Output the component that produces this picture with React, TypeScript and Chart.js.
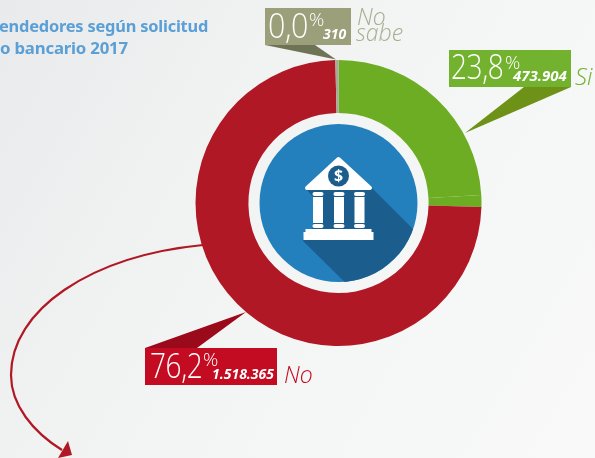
import React, { useEffect, useRef } from "react";
import { Chart, registerables } from "chart.js";

Chart.register(...registerables);

// Shares of the ring, as drawn in the picture (percent of the circle)
const categories = ["Sí", "Sí (banda)", "No", "No sabe"];
const ringShares = [24.1, 1.35, 74.2, 0.35];
const ringColors = ["#6dad23", "#6dad23", "#b11825", "#a8a99a"];

const titleLines = ["endedores según solicitud", "o bancario 2017"];
const percentLabels = ["0,0", "23,8", "76,2"];
const countLabels = ["310", "473.904", "1.518.365"];
const answerLabels = ["No", "sabe", "Si", "No"];

const BLUE = "#2380bd";
const SHADE = "#1b5e8e";

function poly(ctx: CanvasRenderingContext2D, pts: number[][], color: string) {
  ctx.fillStyle = color;
  ctx.beginPath();
  pts.forEach(([x, y], i) => (i ? ctx.lineTo(x, y) : ctx.moveTo(x, y)));
  ctx.closePath();
  ctx.fill();
}

function rrect(ctx: CanvasRenderingContext2D, x: number, y: number, w: number, h: number, r: number) {
  ctx.beginPath();
  ctx.roundRect(x, y, w, h, r);
  ctx.fill();
}

const decorations = {
  id: "decorations",
  beforeDatasetsDraw(chart: any) {
    const ctx: CanvasRenderingContext2D = chart.ctx;
    ctx.save();
    // callout boxes and pointers
    poly(ctx, [[265, 45], [336, 59.5], [315, 45]], "#6f7355");
    ctx.fillStyle = "#9ba07a";
    ctx.fillRect(265, 8, 86, 37);
    poly(ctx, [[524, 87], [571, 87], [465, 133]], "#6e9117");
    ctx.fillStyle = "#72b22e";
    ctx.fillRect(449, 50, 122, 37);
    poly(ctx, [[145, 348], [197, 348], [246, 312]], "#9a0a1b");
    ctx.fillStyle = "#c30c22";
    ctx.fillRect(145, 348, 132, 37);
    // curved arrow
    ctx.strokeStyle = "#b11825";
    ctx.lineWidth = 2.2;
    ctx.beginPath();
    ctx.moveTo(203, 245);
    ctx.bezierCurveTo(90, 256, 11, 310, 11, 375);
    ctx.bezierCurveTo(11, 405, 33, 432, 62, 450);
    ctx.stroke();
    poly(ctx, [[68, 441], [72, 455], [58, 458]], "#b11825");
    ctx.restore();
  },
  afterDatasetsDraw(chart: any) {
    const ctx: CanvasRenderingContext2D = chart.ctx;
    const arc = chart.getDatasetMeta(0).data[0];
    const cx = arc.x;
    const cy = arc.y;
    ctx.save();
    // blue disc
    ctx.fillStyle = BLUE;
    ctx.beginPath();
    ctx.arc(cx, cy, 79, 0, Math.PI * 2);
    ctx.fill();
    // long shadow, clipped to the disc
    ctx.save();
    ctx.beginPath();
    ctx.arc(cx, cy, 79, 0, Math.PI * 2);
    ctx.clip();
    poly(ctx, [[372, 188], [440, 256], [370, 307], [303, 241], [305, 232], [313, 228], [313, 197], [307, 190]], SHADE);
    ctx.restore();
    // bank
    ctx.fillStyle = "#ffffff";
    ctx.strokeStyle = "#ffffff";
    ctx.lineWidth = 4;
    ctx.lineJoin = "round";
    ctx.beginPath();
    ctx.moveTo(338.5, 159);
    ctx.lineTo(370, 188);
    ctx.lineTo(307, 188);
    ctx.closePath();
    ctx.fill();
    ctx.stroke();
    [318, 339, 359.5].forEach((x) => {
      rrect(ctx, x - 5.5, 192, 11, 4, 2);
      ctx.fillRect(x - 5, 197, 10, 26);
      rrect(ctx, x - 5.5, 224, 11, 4, 2);
    });
    ctx.fillRect(305.5, 229, 66, 3);
    ctx.fillRect(303.5, 232, 70, 8);
    ctx.fillStyle = SHADE;
    ctx.beginPath();
    ctx.arc(338.5, 176, 10.5, 0, Math.PI * 2);
    ctx.fill();
    ctx.fillStyle = "#ffffff";
    ctx.font = "bold 16px 'Open Sans'";
    ctx.textAlign = "center";
    ctx.textBaseline = "middle";
    ctx.fillText("$", 338.5, 176.5);
    ctx.restore();
  },
};

type Txt = {
  t: string; x: number; base: number; size: number; color: string;
  weight?: number; italic?: boolean; font?: string; spacing?: number; squeeze?: number;
};

const LIGHT = "'Open Sans'";
const texts: Txt[] = [
  { t: titleLines[0], x: -1, base: 32, size: 16.4, color: "#5a9fd6", weight: 700, font: "'Noto Sans'", spacing: -0.2 },
  { t: titleLines[1], x: 0, base: 54, size: 16.8, color: "#5a9fd6", weight: 700, font: "'Noto Sans'", spacing: -0.2 },

  { t: percentLabels[0], x: 268, base: 38, size: 35, color: "#fff", weight: 300, spacing: -0.5, squeeze: 0.87 },
  { t: "%", x: 309, base: 27, size: 19, color: "#fff", weight: 300, spacing: -1 },
  { t: countLabels[0], x: 323, base: 40, size: 14, color: "#fff", weight: 700, italic: true },
  { t: answerLabels[0], x: 357, base: 26, size: 23, color: "#a9ad8f", weight: 300, italic: true },
  { t: answerLabels[1], x: 356, base: 42, size: 23, color: "#a9ad8f", weight: 300, italic: true },

  { t: percentLabels[1], x: 451, base: 79, size: 35, color: "#fff", weight: 300, spacing: -0.5, squeeze: 0.8 },
  { t: "%", x: 505, base: 70, size: 19, color: "#fff", weight: 300, spacing: -1 },
  { t: countLabels[1], x: 513, base: 82, size: 15, color: "#fff", weight: 700, italic: true },
  { t: answerLabels[2], x: 575, base: 85, size: 24, color: "#72b22e", weight: 300, italic: true },

  { t: percentLabels[2], x: 150, base: 378, size: 35, color: "#fff", weight: 300, spacing: -0.5, squeeze: 0.8 },
  { t: "%", x: 203, base: 367, size: 19, color: "#fff", weight: 300, spacing: -1 },
  { t: countLabels[2], x: 212, base: 380, size: 14, color: "#fff", weight: 700, italic: true },
  { t: answerLabels[3], x: 284, base: 384, size: 23, color: "#c30c22", weight: 300, italic: true },
];

export default function App() {
  const ref = useRef<HTMLCanvasElement>(null);
  useEffect(() => {
    const chart = new Chart(ref.current!, {
      type: "doughnut",
      data: {
        labels: categories,
        datasets: [{ data: ringShares, backgroundColor: ringColors, borderWidth: 0 }],
      },
      options: {
        animation: false,
        responsive: false,
        cutout: "63%",
        layout: { padding: { left: 195.5, right: 113.5, top: 60, bottom: 112 } },
        plugins: { legend: { display: false }, tooltip: { enabled: false } },
      },
      plugins: [decorations],
    } as any);
    return () => chart.destroy();
  }, []);
  return (
    <div
      style={{
        position: "fixed", left: 0, top: 0, width: 595, height: 458, overflow: "hidden",
        background: "linear-gradient(120deg,#e9eaeb 0%,#f1f2f2 35%,#f5f6f6 65%,#f9f9f9 100%)",
      }}
    >
      <canvas ref={ref} width={595} height={458} style={{ position: "absolute", left: 0, top: 0, display: "block" }} />
      {texts.map((d, i) => (
        <span
          key={i}
          style={{
            position: "absolute", left: d.x, top: d.base - 1.038 * d.size, height: d.size * 1.3,
            lineHeight: `${d.size * 1.3}px`, whiteSpace: "nowrap",
            fontFamily: d.font ?? LIGHT, fontSize: d.size, fontWeight: d.weight ?? 400,
            fontStyle: d.italic ? "italic" : "normal", color: d.color, letterSpacing: d.spacing ?? 0,
            transform: d.squeeze ? `scaleX(${d.squeeze})` : undefined, transformOrigin: "left center",
          }}
        >
          {d.t}
        </span>
      ))}
    </div>
  );
}
